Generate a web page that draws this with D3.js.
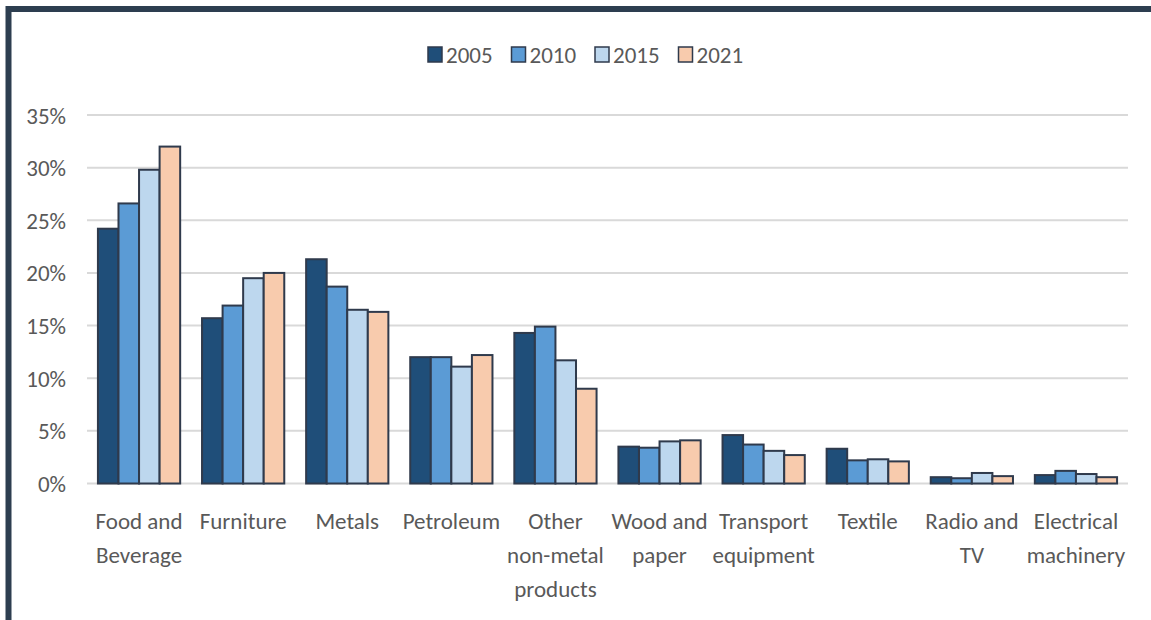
<!DOCTYPE html>
<html>
<head>
<meta charset="utf-8">
<script src="https://cdn.jsdelivr.net/npm/d3@7"></script>
<style>
  html, body { margin: 0; padding: 0; background: #fff; }
  svg text { font-family: Carlito, Lato, "Open Sans", sans-serif; fill: #595959; }
</style>
</head>
<body>
<div id="place"></div>
<script>
// categories et séries (parts en %)
const categories = [
  ["Food and", "Beverage"],
  ["Furniture"],
  ["Metals"],
  ["Petroleum"],
  ["Other", "non-metal", "products"],
  ["Wood and", "paper"],
  ["Transport", "equipment"],
  ["Textile"],
  ["Radio and", "TV"],
  ["Electrical", "machinery"]
];
const years = ["2005", "2010", "2015", "2021"];
const v2005 = [24.2, 15.7, 21.3, 12.0, 14.3, 3.5, 4.6, 3.3, 0.6, 0.8];
const v2010 = [26.6, 16.9, 18.7, 12.0, 14.9, 3.4, 3.7, 2.2, 0.5, 1.2];
const v2015 = [29.8, 19.5, 16.5, 11.1, 11.7, 4.0, 3.1, 2.3, 1.0, 0.9];
const v2021 = [32.0, 20.0, 16.3, 12.2, 9.0, 4.1, 2.7, 2.1, 0.7, 0.6];
const yTicks = [0, 0.05, 0.10, 0.15, 0.20, 0.25, 0.30, 0.35];

const series = [v2005, v2010, v2015, v2021];
const colors = ["#1f4e79", "#5b9bd5", "#bdd7ee", "#f8cbad"];
const outline = "#2f3a4c";
const fs = 23;

const W = 1151, H = 620;
const svg = d3.select("#place").append("svg")
  .attr("width", W).attr("height", H);

// cadre sombre (haut + gauche)
svg.append("path")
  .attr("d", "M8.5,620 V9 H1151")
  .attr("fill", "none")
  .attr("stroke", "#2d3e50")
  .attr("stroke-width", 6);

const margin = { top: 115, right: 23, bottom: 136, left: 87 };
const x0 = d3.scaleBand()
  .domain(d3.range(categories.length))
  .range([margin.left, W - margin.right])
  .padding(0);
const x1 = d3.scaleBand()
  .domain(years)
  .range([x0.bandwidth() * 0.105, x0.bandwidth() * 0.895])
  .padding(0);
const y = d3.scaleLinear()
  .domain([0, 0.35])
  .range([H - margin.bottom - 0.5, margin.top]);

// grille
svg.append("g")
  .selectAll("line")
  .data(yTicks)
  .join("line")
  .attr("x1", margin.left)
  .attr("x2", W - margin.right)
  .attr("y1", d => y(d))
  .attr("y2", d => y(d))
  .attr("stroke", "#d9d9d9")
  .attr("stroke-width", 2);

// axe y (labels seulement)
const yAxis = svg.append("g")
  .attr("transform", "translate(" + (margin.left - 21) + ",0)")
  .call(d3.axisLeft(y).tickValues(yTicks).tickFormat(d3.format(".0%")).tickSize(0).tickPadding(0));
yAxis.select(".domain").remove();
yAxis.attr("font-family", null).attr("font-size", null);
yAxis.selectAll("text")
  .attr("font-size", fs)
  .attr("dy", "0.35em");

// barres
const groups = svg.append("g")
  .selectAll("g")
  .data(categories)
  .join("g")
  .attr("transform", (d, i) => "translate(" + x0(i) + ",0)");

groups.selectAll("rect")
  .data((d, i) => years.map((yr, k) => ({ yr: yr, k: k, v: series[k][i] / 100 })))
  .join("rect")
  .attr("x", d => x1(d.yr))
  .attr("y", d => y(d.v))
  .attr("width", x1.bandwidth())
  .attr("height", d => y(0) - y(d.v))
  .attr("fill", d => colors[d.k])
  .attr("stroke", outline)
  .attr("stroke-width", 2);

// labels des catégories
const labels = svg.append("g")
  .selectAll("text")
  .data(categories)
  .join("text")
  .attr("x", (d, i) => x0(i) + x0.bandwidth() / 2)
  .attr("y", 529)
  .attr("text-anchor", "middle")
  .attr("font-size", fs);
labels.selectAll("tspan")
  .data(d => d)
  .join("tspan")
  .attr("x", function () { return d3.select(this.parentNode).attr("x"); })
  .attr("dy", (d, i) => i === 0 ? 0 : 34)
  .text(d => d);

// légende
const legend = svg.append("g")
  .selectAll("g")
  .data(years)
  .join("g")
  .attr("transform", (d, i) => "translate(" + (428 + i * 83.5) + ",47)");
legend.append("rect")
  .attr("width", 14).attr("height", 15)
  .attr("fill", (d, i) => colors[i])
  .attr("stroke", outline)
  .attr("stroke-width", 1.5);
legend.append("text")
  .attr("x", 18)
  .attr("y", 16)
  .attr("font-size", fs)
  .text(d => d);
</script>
</body>
</html>
